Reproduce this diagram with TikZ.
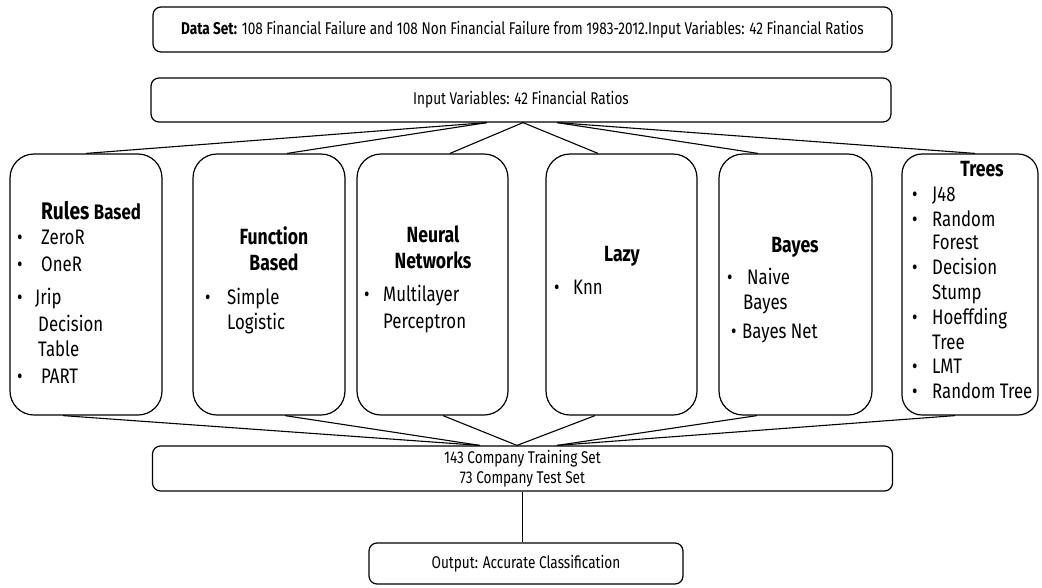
\documentclass[tikz,border=0pt]{standalone}
\usepackage{fontspec}
\setmainfont{Fira Sans}[FakeStretch=0.8]
\newcommand{\bl}[2]{\makebox[#1pt][l]{\textbullet}#2}
\begin{document}
\begin{tikzpicture}[x=1pt,y=-1pt,
  wbox/.style={draw, rounded corners=8pt, line width=1.2pt, inner sep=0pt, font=\fontsize{17}{20}\selectfont, align=center},
  cbox/.style={draw, rounded corners=24pt, line width=1.2pt, inner sep=0pt, minimum height=261pt},
  txt/.style={inner sep=0pt, anchor=base west, font=\fontsize{21}{25}\selectfont},
  hd/.style={inner sep=0pt, anchor=base, font=\fontsize{22}{26}\selectfont\bfseries},
  con/.style={line width=1.1pt}]
\useasboundingbox (0,0) rectangle (1042,587);
% wide boxes
\node[wbox, minimum width=739pt, minimum height=45pt] (ds) at (522.5,29.5) {\textbf{Data Set:} 108 Financial Failure and 108 Non Financial Failure from 1983-2012.Input Variables: 42 Financial Ratios};
\node[wbox, minimum width=740pt, minimum height=44pt] (inp) at (521,100) {Input Variables: 42 Financial Ratios};
\node[wbox, minimum width=740pt, minimum height=45pt] (train) at (522.5,468.5) {143 Company Training Set\\73 Company Test Set};
\node[wbox, minimum width=314pt, minimum height=41pt] (out) at (526,563.5) {Output: Accurate Classification};
% category boxes
\node[cbox, minimum width=152pt] (rules) at (86,284.5) {};
\node[cbox, minimum width=152pt] (fn) at (269,284.5) {};
\node[cbox, minimum width=151pt] (nn) at (432.5,284.5) {};
\node[cbox, minimum width=151pt] (lazy) at (621.5,284.5) {};
\node[cbox, minimum width=153pt] (bayes) at (795.5,284.5) {};
\node[cbox, minimum width=136pt, rounded corners=20pt] (trees) at (970,284.5) {};
% Rules Based
\node[hd] (rh) at (91,219) {\fontsize{24}{28}\selectfont Rules \fontsize{21}{24}\selectfont Based};
\node[txt] (r1) at (17,244) {\bl{24}{ZeroR}};
\node[txt] (r2) at (17,271) {\bl{24}{OneR}};
\node[txt] (r3) at (17,304) {\bl{18}{Jrip}};
\node[txt] (r4) at (38,331) {Decision};
\node[txt] (r5) at (38,356) {Table};
\node[txt] (r6) at (17,383) {\bl{24}{PART}};
% Function Based
\node[hd] (fh1) at (274,244) {Function};
\node[hd] (fh2) at (274,270) {Based};
\node[txt] (f1) at (205,304) {\bl{22}{Simple}};
\node[txt] (f2) at (227,329) {Logistic};
% Neural Networks
\node[hd] (nh1) at (433,242) {Neural};
\node[hd] (nh2) at (433,268) {Networks};
\node[txt] (n1) at (364,301) {\bl{19}{Multilayer}};
\node[txt] (n2) at (383,328) {Perceptron};
% Lazy
\node[hd] (lh) at (622,261) {Lazy};
\node[txt] (l1) at (554,294) {\bl{19}{Knn}};
% Bayes
\node[hd] (bh) at (795,252) {Bayes};
\node[txt] (b1) at (727,284) {\bl{20}{Naive}};
\node[txt] (b2) at (743,309) {Bayes};
\node[txt] (b3) at (731,338) {\bl{11}{Bayes Net}};
% Trees
\node[hd] (th) at (982,176) {Trees};
\node[txt] (t1) at (912,201) {\bl{20}{J48}};
\node[txt] (t2) at (912,226) {\bl{20}{Random}};
\node[txt] (t3) at (932,249) {Forest};
\node[txt] (t4) at (912,274) {\bl{20}{Decision}};
\node[txt] (t5) at (932,299) {Stump};
\node[txt] (t6) at (912,324) {\bl{20}{Hoeffding}};
\node[txt] (t7) at (932,349) {Tree};
\node[txt] (t8) at (912,373) {\bl{20}{LMT}};
\node[txt] (t9) at (912,398) {\bl{20}{Random Tree}};
% connectors top
\draw[con] (rules.north) -- ([xshift=-34pt]inp.south);
\draw[con] ([xshift=18pt]fn.north) -- ([xshift=-34pt]inp.south);
\draw[con] ([xshift=17.5pt]nn.north) -- ([xshift=2pt]inp.south);
\draw[con] ([xshift=-23.5pt]lazy.north) -- ([xshift=2pt]inp.south);
\draw[con] ([xshift=-37.5pt]bayes.north) -- ([xshift=36pt]inp.south);
\draw[con] ([xshift=5pt]trees.north) -- ([xshift=36pt]inp.south);
% connectors bottom
\draw[con] ([xshift=-23pt]rules.south) -- ([xshift=-42.5pt]train.north);
\draw[con] ([xshift=16pt]fn.south) -- ([xshift=-42.5pt]train.north);
\draw[con] ([xshift=10.5pt]nn.south) -- ([xshift=-5.5pt]train.north);
\draw[con] ([xshift=-26.5pt]lazy.south) -- ([xshift=-5.5pt]train.north);
\draw[con] ([xshift=-38.5pt]bayes.south) -- ([xshift=34.5pt]train.north);
\draw[con] ([xshift=-15pt]trees.south) -- ([xshift=34.5pt]train.north);
% output
\draw[con] (train.south) -- (train.south |- out.north);
\end{tikzpicture}
\end{document}
